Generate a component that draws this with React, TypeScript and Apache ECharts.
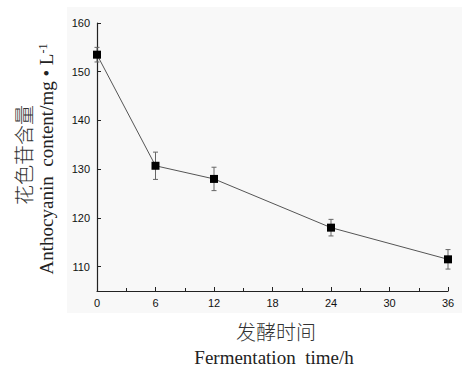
import React, { useEffect, useRef } from "react";
import * as echarts from "echarts";

const times = [0, 6, 12, 24, 36];
const values = [153.5, 130.7, 128.0, 118.0, 111.5];
const errors = [1.5, 2.8, 2.4, 1.7, 2.0];
const xTicks = [0, 6, 12, 18, 24, 30, 36];
const yTicks = [110, 120, 130, 140, 150, 160];

export default function App() {
  const ref = useRef<HTMLDivElement>(null);
  useEffect(() => {
    if (!ref.current) return;
    const chart = echarts.init(ref.current, null, { renderer: "svg" });
    const serif = "'Liberation Serif', 'Times New Roman', serif";
    const cn = "'Noto Sans CJK SC', sans-serif";
    const grid = { left: 97, right: 14, top: 23, bottom: 77 };
    chart.setOption({
      animation: false,
      backgroundColor: "#ffffff",
      graphic: [
        {
          type: "rect",
          z: -10,
          shape: { x: 67, y: 7, width: 395, height: 306 },
          style: { fill: "#f8f8f8" },
          silent: true,
        },
        {
          type: "text",
          x: 276,
          y: 331,
          style: {
            text: "发酵时间",
            font: `300 20px ${cn}`,
            fill: "#333",
            textAlign: "center",
            textVerticalAlign: "middle",
          },
        },
        {
          type: "text",
          x: 274,
          y: 357,
          style: {
            text: "Fermentation  time/h",
            font: `19px ${serif}`,
            fill: "#222",
            textAlign: "center",
            textVerticalAlign: "middle",
          },
        },
        {
          type: "text",
          x: 23,
          y: 155,
          rotation: Math.PI / 2,
          style: {
            text: "花色苷含量",
            font: `300 20px ${cn}`,
            fill: "#333",
            textAlign: "center",
            textVerticalAlign: "middle",
          },
        },
        {
          type: "text",
          x: 46,
          y: 159,
          rotation: Math.PI / 2,
          style: {
            text: "{n|Anthocyanin  content/mg • L}{s|-1}",
            textAlign: "center",
            textVerticalAlign: "middle",
            rich: {
              n: { font: `19px ${serif}`, fill: "#222", verticalAlign: "bottom" },
              s: { font: `12px ${serif}`, fill: "#222", verticalAlign: "top" },
            },
          },
        },
      ],
      grid,
      xAxis: {
        type: "value",
        min: 0,
        max: 36,
        interval: 6,
        axisLine: { lineStyle: { color: "#222", width: 1.2 } },
        axisTick: { inside: true, length: 4, lineStyle: { color: "#222" } },
        minorTick: { show: true, splitNumber: 2, length: 3, lineStyle: { color: "#222" } },
        splitLine: { show: false },
        axisLabel: {
          color: "#111",
          fontFamily: "'Liberation Sans', Arial, sans-serif",
          fontSize: 11,
          margin: 6,
          customValues: xTicks,
        },
      },
      yAxis: {
        type: "value",
        min: 105,
        max: 160,
        interval: 10,
        axisLine: { show: true, onZero: false, lineStyle: { color: "#222", width: 1.2 } },
        axisTick: { inside: true, length: 4, lineStyle: { color: "#222" }, customValues: yTicks },
        minorTick: { show: true, splitNumber: 2, length: 3, lineStyle: { color: "#222" } },
        splitLine: { show: false },
        axisLabel: {
          color: "#111",
          fontFamily: "'Liberation Sans', Arial, sans-serif",
          fontSize: 11,
          margin: 7,
          customValues: yTicks,
        },
      },
      series: [
        {
          type: "line",
          data: times.map((t, i) => [t, values[i]]),
          symbol: "rect",
          symbolSize: 8,
          itemStyle: { color: "#000" },
          lineStyle: { color: "#555", width: 1 },
          z: 3,
        },
        {
          type: "custom",
          data: times.map((t, i) => [t, values[i] - errors[i], values[i] + errors[i]]),
          z: 2,
          renderItem: (params: any, api: any) => {
            const x = api.value(0);
            const lo = api.coord([x, api.value(1)]);
            const hi = api.coord([x, api.value(2)]);
            const c = 2.5;
            const style = { stroke: "#666", lineWidth: 1 };
            return {
              type: "group",
              children: [
                { type: "line", shape: { x1: lo[0], y1: lo[1], x2: hi[0], y2: hi[1] }, style },
                { type: "line", shape: { x1: lo[0] - c, y1: lo[1], x2: lo[0] + c, y2: lo[1] }, style },
                { type: "line", shape: { x1: hi[0] - c, y1: hi[1], x2: hi[0] + c, y2: hi[1] }, style },
              ],
            };
          },
        },
      ],
    });
    return () => chart.dispose();
  }, []);
  return <div ref={ref} style={{ width: 462, height: 368, position: "absolute", left: 0, top: 0 }} />;
}
